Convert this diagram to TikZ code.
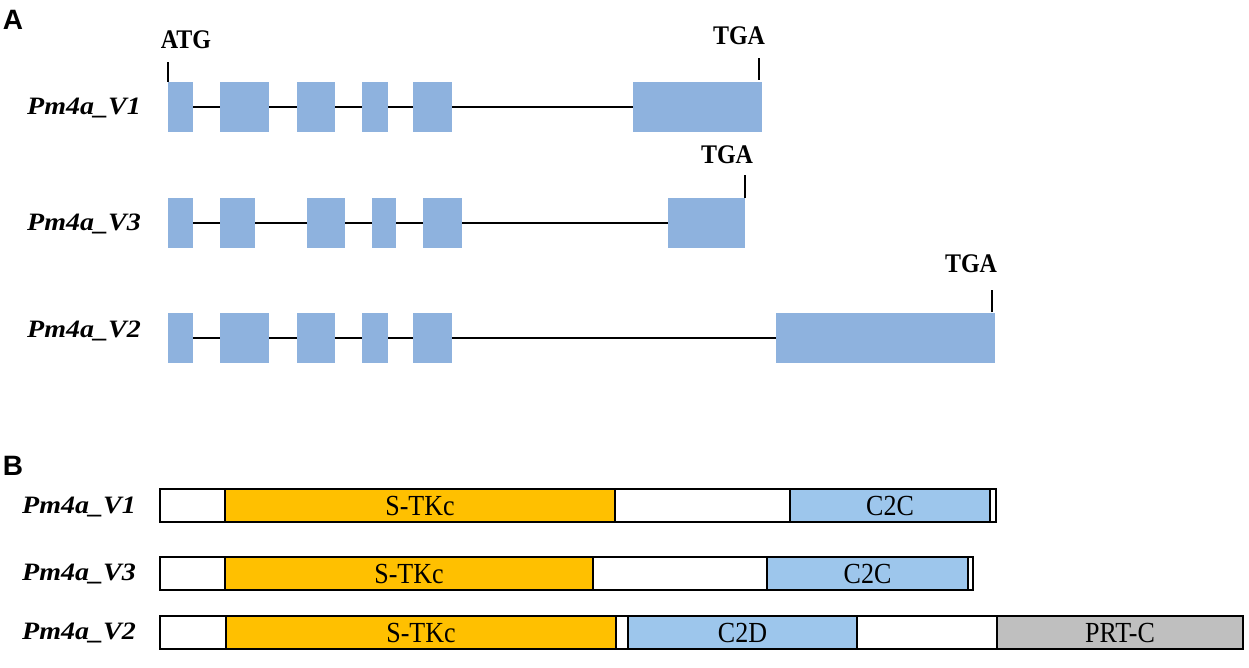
\documentclass[tikz,border=0pt]{standalone}
\usepackage{fontspec}
\setmainfont{Liberation Serif}
\newfontfamily\panelfont{Liberation Sans}
\definecolor{exonblue}{RGB}{142,178,222}
\definecolor{c2blue}{RGB}{157,198,236}
\definecolor{stkorange}{RGB}{255,192,0}
\definecolor{prtgray}{RGB}{191,191,191}
\newcommand\rowtxt[1]{\scalebox{1.12}[1]{#1}}
\newcommand\tallt[1]{\scalebox{1}[1.12]{#1}}
\tikzset{
  exon/.style={fill=exonblue, draw=none, inner sep=0pt, outer sep=0pt, minimum height=50pt, anchor=north west},
  intron/.style={line width=1.6pt, black},
  tick/.style={line width=1.4pt, black},
  codon/.style={font=\fontsize{24}{24}\selectfont\bfseries, inner sep=0pt},
  rowlabel/.style={font=\fontsize{25}{25}\selectfont\bfseries\itshape, inner sep=0pt},
  panel/.style={font=\fontsize{28}{28}\selectfont\panelfont\bfseries, inner sep=0pt},
  seg/.style={draw=black, line width=1.5pt, inner sep=0pt, outer sep=0pt, minimum height=33pt, anchor=north west, font=\fontsize{26}{26}\selectfont},
  plain/.style={seg, fill=white},
  stk/.style={seg, fill=stkorange},
  ctwo/.style={seg, fill=c2blue},
  prt/.style={seg, fill=prtgray}
}
\newcommand\ex[4]{\node[exon, minimum width=#3pt] (#1) at (#2,#4) {};}
\newcommand\sg[6]{\node[#1, minimum width=#4pt] (#2) at (#3,#5) {\tallt{#6}};}
\begin{document}
\begin{tikzpicture}[x=1pt,y=-1pt]
\useasboundingbox (0,0) rectangle (1249,668);
% Panel labels
\node[panel] (pA) at (13,20) {A};
\node[panel] (pB) at (13,466) {B};
% ---------- Panel A ----------
% V1
\node[rowlabel] (lA1) at (84,108) {\rowtxt{Pm4a\_V1}};
\ex{a1e1}{168}{25}{82}
\ex{a1e2}{220}{49}{82}
\ex{a1e3}{297}{38}{82}
\ex{a1e4}{362}{26}{82}
\ex{a1e5}{413}{39}{82}
\ex{a1e6}{633}{129}{82}
\draw[intron] (a1e1.east) -- (a1e2.west);
\draw[intron] (a1e2.east) -- (a1e3.west);
\draw[intron] (a1e3.east) -- (a1e4.west);
\draw[intron] (a1e4.east) -- (a1e5.west);
\draw[intron] (a1e5.east) -- (a1e6.west);
\coordinate (atgtop) at (168,62);
\draw[tick] (a1e1.north west) -- (atgtop);
\node[codon] (atg) at (186,40) {\tallt{ATG}};
\coordinate (tga1bot) at (759,80);
\coordinate (tga1top) at (759,58);
\draw[tick] (tga1bot) -- (tga1top);
\node[codon] (tga1) at (739,36) {\tallt{TGA}};
% V3
\node[rowlabel] (lA3) at (84,224) {\rowtxt{Pm4a\_V3}};
\ex{a3e1}{168}{25}{198}
\ex{a3e2}{220}{35}{198}
\ex{a3e3}{307}{38}{198}
\ex{a3e4}{372}{24}{198}
\ex{a3e5}{423}{39}{198}
\ex{a3e6}{668}{77}{198}
\draw[intron] (a3e1.east) -- (a3e2.west);
\draw[intron] (a3e2.east) -- (a3e3.west);
\draw[intron] (a3e3.east) -- (a3e4.west);
\draw[intron] (a3e4.east) -- (a3e5.west);
\draw[intron] (a3e5.east) -- (a3e6.west);
\coordinate (tga3top) at (745,175);
\draw[tick] (a3e6.north east) -- (tga3top);
\node[codon] (tga3) at (727,155) {\tallt{TGA}};
% V2
\node[rowlabel] (lA2) at (84,331) {\rowtxt{Pm4a\_V2}};
\ex{a2e1}{168}{25}{313}
\ex{a2e2}{220}{49}{313}
\ex{a2e3}{297}{38}{313}
\ex{a2e4}{362}{26}{313}
\ex{a2e5}{413}{39}{313}
\ex{a2e6}{776}{219}{313}
\draw[intron] (a2e1.east) -- (a2e2.west);
\draw[intron] (a2e2.east) -- (a2e3.west);
\draw[intron] (a2e3.east) -- (a2e4.west);
\draw[intron] (a2e4.east) -- (a2e5.west);
\draw[intron] (a2e5.east) -- (a2e6.west);
\coordinate (tga2bot) at (992,312);
\coordinate (tga2top) at (992,290);
\draw[tick] (tga2bot) -- (tga2top);
\node[codon] (tga2) at (971,264) {\tallt{TGA}};
% ---------- Panel B ----------
% V1
\node[rowlabel] (lB1) at (79,507) {\rowtxt{Pm4a\_V1}};
\sg{plain}{b1s1}{160}{65}{489}{}
\sg{stk}{b1s2}{225}{390}{489}{S-TKc}
\sg{plain}{b1s3}{615}{175}{489}{}
\sg{ctwo}{b1s4}{790}{200}{489}{C2C}
\sg{plain}{b1s5}{990}{6}{489}{}
% V3
\node[rowlabel] (lB3) at (79,574) {\rowtxt{Pm4a\_V3}};
\sg{plain}{b3s1}{160}{65}{557}{}
\sg{stk}{b3s2}{225}{368}{557}{S-TKc}
\sg{plain}{b3s3}{593}{174}{557}{}
\sg{ctwo}{b3s4}{767}{201}{557}{C2C}
\sg{plain}{b3s5}{968}{5}{557}{}
% V2
\node[rowlabel] (lB2) at (79,633) {\rowtxt{Pm4a\_V2}};
\sg{plain}{b2s1}{160}{66}{616}{}
\sg{stk}{b2s2}{226}{390}{616}{S-TKc}
\sg{plain}{b2s3}{616}{12}{616}{}
\sg{ctwo}{b2s4}{628}{229}{616}{C2D}
\sg{plain}{b2s5}{857}{140}{616}{}
\sg{prt}{b2s6}{997}{246}{616}{PRT-C}
\end{tikzpicture}
\end{document}
